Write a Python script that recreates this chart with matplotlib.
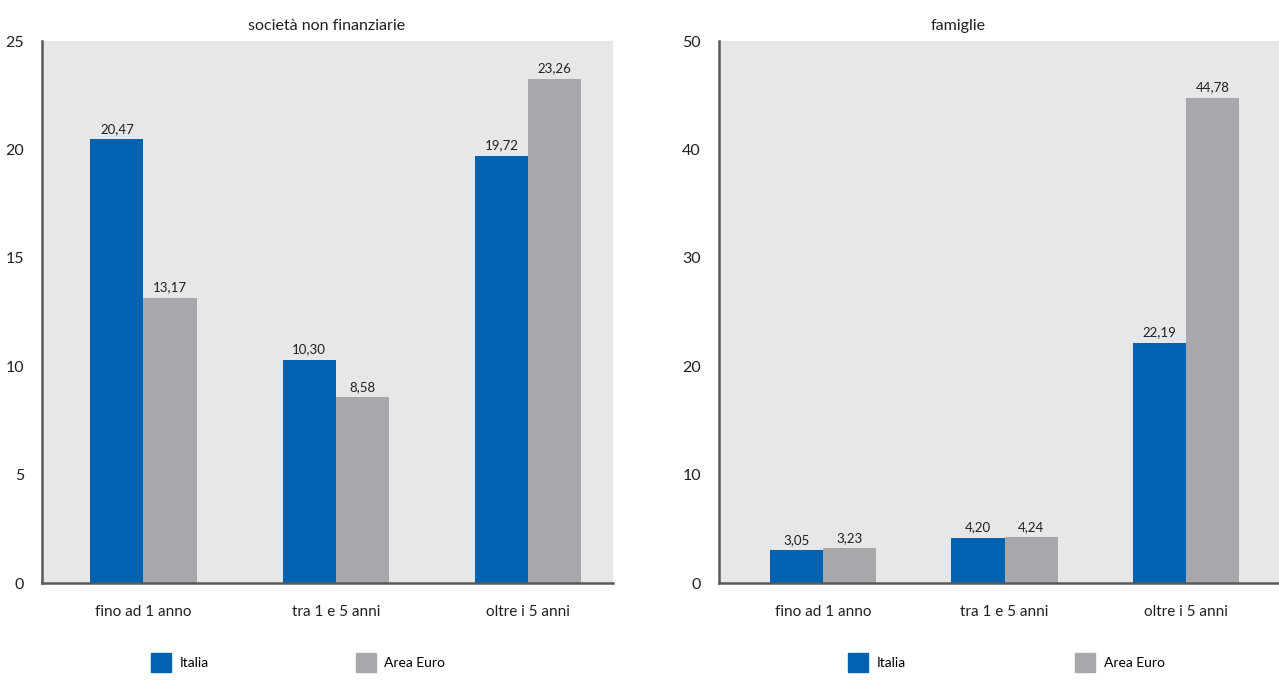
import matplotlib
matplotlib.use("Agg")
import matplotlib.pyplot as plt
import numpy as np
from matplotlib.patches import Patch

plt.rcParams['font.family'] = ['Lato', 'DejaVu Sans']

# dati
categorie = ["fino ad 1 anno", "tra 1 e 5 anni", "oltre i 5 anni"]
serie = ["Italia", "Area Euro"]
snf_italia = [20.47, 10.30, 19.72]
snf_euro = [13.17, 8.58, 23.26]
fam_italia = [3.05, 4.20, 22.19]
fam_euro = [3.23, 4.24, 44.78]
titoli = ["società non finanziarie", "famiglie"]

BLU = "#0062b1"
GRIGIO = "#a7a8ab"
SFONDO = "#e6e7e9"
ASSE = "#58595b"
TESTO = "#231f20"


def fmt(v):
    return f"{v:.2f}".replace(".", ",")


def pannello(ax, ita, eur, ymax, step, larg, xlim):
    x = np.arange(len(categorie))
    b1 = ax.bar(x - larg / 2, ita, larg, color=BLU, edgecolor="none")
    b2 = ax.bar(x + larg / 2, eur, larg, color=GRIGIO, edgecolor="none")
    for barre in (b1, b2):
        for b in barre:
            ax.annotate(fmt(b.get_height()), (b.get_x() + b.get_width() / 2, b.get_height()),
                        textcoords="offset points", xytext=(0, 3), ha="center", va="bottom",
                        fontsize=9.5, color=TESTO)
    ax.set_facecolor(SFONDO)
    ax.set_xlim(*xlim)
    ax.set_ylim(0, ymax)
    ax.set_yticks(np.arange(0, ymax + 1, step))
    ax.set_xticks(x)
    ax.set_xticklabels(categorie)
    ax.tick_params(axis="x", length=0, pad=16, labelsize=11, colors=TESTO)
    ax.tick_params(axis="y", length=0, pad=13, labelsize=11.5, colors=TESTO)
    for s in ("top", "right"):
        ax.spines[s].set_visible(False)
    for s in ("left", "bottom"):
        ax.spines[s].set_color(ASSE)
        ax.spines[s].set_linewidth(1.8)


fig = plt.figure(figsize=(12.79, 6.90), dpi=100)
ax1 = fig.add_axes([0.0328, 0.155, 0.4464, 0.7855])
ax2 = fig.add_axes([0.5621, 0.155, 0.4379, 0.7855])

pannello(ax1, snf_italia, snf_euro, 25, 5, 0.276, (-0.528, 2.442))
pannello(ax2, fam_italia, fam_euro, 50, 10, 0.292, (-0.573, 2.512))

fig.text(0.2555, 0.962, titoli[0], ha="center", va="center", fontsize=11.5, color=TESTO)
fig.text(0.749, 0.962, titoli[1], ha="center", va="center", fontsize=11.5, color=TESTO)

maniglie = [Patch(color=BLU), Patch(color=GRIGIO)]
for cx, spazio in ((0.233, 10.6), (0.787, 12.2)):
    fig.legend(maniglie, serie, loc="center", bbox_to_anchor=(cx, 0.04), ncol=2,
               frameon=False, fontsize=10, handlelength=1.45, handleheight=1.75,
               handletextpad=0.6, columnspacing=spazio)

fig.savefig("out.png", dpi=100)
